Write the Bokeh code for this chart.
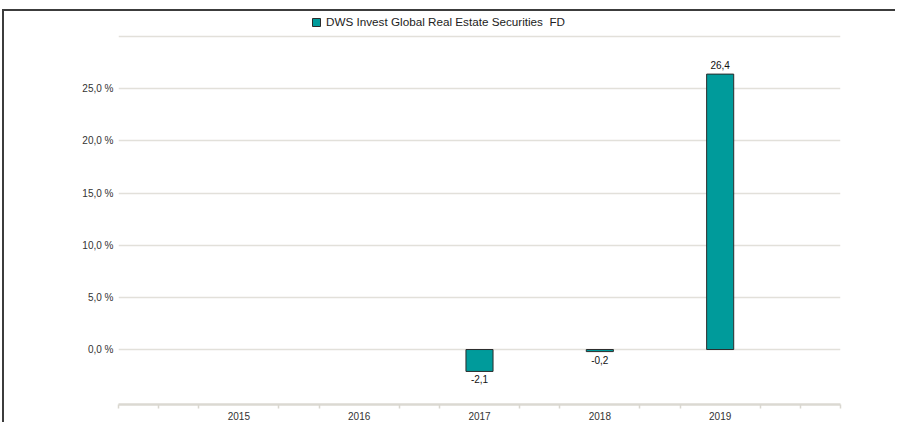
from bokeh.plotting import figure
from bokeh.models import (ColumnDataSource, Range1d, FixedTicker, Legend, LegendItem, LabelSet)
from bokeh.core.properties import value
from bokeh.embed import file_html
from bokeh.resources import INLINE

# ---- data ----
years = [2015, 2016, 2017, 2018, 2019]
returns = [None, None, -2.1, -0.2, 26.4]
series_name = "DWS Invest Global Real Estate Securities  FD"
y_ticks = [0, 5, 10, 15, 20, 25, 30]
y_tick_labels = ["0,0 %", "5,0 %", "10,0 %", "15,0 %", "20,0 %", "25,0 %", ""]

BAR = "#009b9b"
FONT = "Liberation Sans"

bx = [y for y, v in zip(years, returns) if v is not None]
bv = [v for v in returns if v is not None]
src = ColumnDataSource(dict(x=bx, top=bv))
pos = ColumnDataSource(dict(x=[x for x, v in zip(bx, bv) if v >= 0], y=[v for v in bv if v >= 0],
                            lab=[f"{v:.1f}".replace(".", ",") for v in bv if v >= 0]))
neg = ColumnDataSource(dict(x=[x for x, v in zip(bx, bv) if v < 0], y=[v for v in bv if v < 0],
                            lab=[f"{v:.1f}".replace(".", ",") for v in bv if v < 0]))

# frame spans the whole top so that the legend can sit in it
p = figure(width=893, height=413, output_backend="svg", toolbar_location=None,
           x_range=Range1d(years[0] - 1, years[-1] + 1), y_range=Range1d(-5.27, 32.4),
           min_border_left=114, min_border_right=57, min_border_top=0, min_border_bottom=20)
p.styles = {"position": "relative", "left": "2px", "top": "9px",
            "border-top": "2px solid #3c3c3c", "border-left": "2px solid #3c3c3c"}
p.outline_line_color = None
p.background_fill_color = "white"
p.border_fill_color = "white"

bars = p.vbar(x="x", top="top", bottom=0, width=0.225, source=src,
              fill_color=BAR, line_color="#2b2b2b", line_width=1)

# value labels
p.add_layout(LabelSet(x="x", y="y", text="lab", source=pos, text_align="center",
                      text_baseline="bottom", y_offset=5, text_font=value(FONT),
                      text_font_size="10px", text_color="#111111"))
p.add_layout(LabelSet(x="x", y="y", text="lab", source=neg, text_align="center",
                      text_baseline="top", y_offset=-4, text_font=value(FONT),
                      text_font_size="10px", text_color="#111111"))

# x axis
minor = []
for k in range(0, 19):
    t = years[0] - 1 + k / 3.0
    if abs(t - round(t)) < 1e-6 and int(round(t)) in years:
        continue
    minor.append(t)
p.xaxis.ticker = FixedTicker(ticks=years, minor_ticks=minor)
p.xaxis.major_tick_out = 0
p.xaxis.major_tick_in = 0
p.xaxis.minor_tick_out = 4
p.xaxis.minor_tick_in = 0
p.xaxis.minor_tick_line_color = "#d9d7d0"
p.xaxis.minor_tick_line_width = 1.5
p.xaxis.axis_line_color = "#dbd9d2"
p.xaxis.axis_line_width = 2.5
p.xaxis.major_label_standoff = 3
p.xaxis.major_label_text_font = FONT
p.xaxis.major_label_text_font_size = "10px"
p.xaxis.major_label_text_color = "#333333"
p.xgrid.grid_line_color = None

# y axis
p.yaxis.ticker = FixedTicker(ticks=y_ticks)
p.yaxis.major_label_overrides = {t: l for t, l in zip(y_ticks, y_tick_labels)}
p.yaxis.axis_line_color = None
p.yaxis.major_tick_line_color = None
p.yaxis.major_tick_out = 0
p.yaxis.major_tick_in = 0
p.yaxis.minor_tick_line_color = None
p.yaxis.minor_tick_out = 0
p.yaxis.major_label_standoff = 5
p.yaxis.major_label_text_font = FONT
p.yaxis.major_label_text_font_size = "10px"
p.yaxis.major_label_text_color = "#333333"
p.ygrid.grid_line_color = "#e2e0da"
p.ygrid.grid_line_width = 1.5

legend = Legend(items=[LegendItem(label=series_name, renderers=[bars])],
                location=(193, 376), orientation="horizontal",
                padding=2, spacing=0, margin=0, glyph_width=10, glyph_height=10,
                label_height=12, label_standoff=5, label_text_font=FONT,
                label_text_font_size="11.7px", label_text_color="#222222",
                border_line_color=None, background_fill_alpha=0)
p.add_layout(legend, "center")

open("out.html", "w").write(file_html(p, INLINE))
